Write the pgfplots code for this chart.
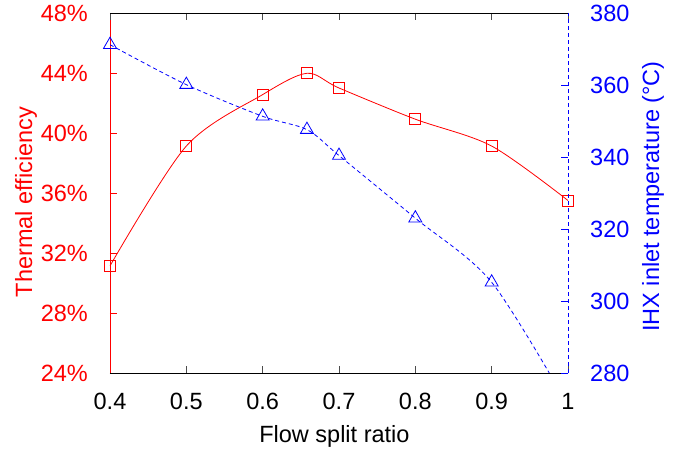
\documentclass[border=0pt]{standalone}
\usepackage{fontspec}
\setmainfont{Liberation Sans}
\usepackage{pgfplots}
\pgfplotsset{compat=1.18}
\definecolor{myred}{RGB}{255,0,0}
\definecolor{myblue}{RGB}{0,0,255}
\pgfplotstableread{
x eff
0.4 31.14
0.5 39.13
0.6 42.56
0.658 43.98
0.7 43.0
0.8 40.92
0.9 39.13
1.0 35.5
}\efftable
\pgfplotstableread{
x temp
0.4 371.2
0.5 360.1
0.6 351.3
0.658 347.6
0.7 340.4
0.8 323.0
0.9 305.2
1.0 271
}\temptable
\begin{document}
\begin{tikzpicture}[font=\fontsize{23.5bp}{27bp}\selectfont]
\pgfplotsset{
  every axis/.append style={
    scale only axis, width=458bp, height=360bp,
    xmin=0.4, xmax=1,
    tick align=inside, major tick length=7bp,
    /pgf/number format/assume math mode=true,
    clip mode=individual,
  }
}
\begin{axis}[
  ymin=24, ymax=48,
  axis x line*=bottom, axis y line*=left,
  xtick={0.4,0.5,0.6,0.7,0.8,0.9,1},
  ytick={24,28,32,36,40,44,48},
  yticklabel={\pgfmathprintnumber{\tick}\%},
  x axis line style={black, line width=0.8bp, -},
  y axis line style={myred, line width=0.8bp, -},
  x tick style={black!70, line width=0.8bp},
  y tick style={myred, line width=0.8bp},
  yticklabel style={myred, anchor=east, inner sep=0pt, xshift=-22bp},
  xticklabel style={anchor=center, inner sep=0pt, yshift=-28bp},
  ylabel={Thermal efficiency},
  ylabel style={myred, at={(axis description cs:-0.2074,0.475)}, anchor=north, inner sep=0pt, rotate=0},
  xlabel={Flow split ratio},
  xlabel style={at={(axis description cs:0.49,0)}, anchor=base, inner sep=0pt, yshift=-69bp},
]
\addplot[myred, line width=0.8bp, smooth, mark=square, mark size=5.5bp, mark options={solid, line width=0.8bp}] table[x=x, y=eff] {\efftable};
\end{axis}
\begin{axis}[
  ymin=280, ymax=380,
  axis x line*=top, axis y line*=right,
  xtick={0.4,0.5,0.6,0.7,0.8,0.9,1}, xticklabels={},
  ytick={280,300,320,340,360,380},
  x axis line style={black, line width=0.8bp, -},
  y axis line style={myblue, line width=0.8bp, dash pattern=on 4bp off 3bp, -},
  x tick style={black!70, line width=0.8bp},
  y tick style={myblue, line width=0.8bp},
  yticklabel style={myblue, anchor=west, inner sep=0pt, xshift=22bp},
  ylabel={IHX inlet temperature (°C)},
  ylabel style={myblue, at={(axis description cs:1.1616,0.49)}, anchor=north, inner sep=0pt},
]
\addplot[myblue, line width=0.8bp, smooth, dash pattern=on 4bp off 3bp, mark=triangle, mark size=7.5bp, mark options={solid, line width=0.8bp}] table[x=x, y=temp] {\temptable};
\end{axis}
\pgfresetboundingbox
\path[use as bounding box] (-110bp,-76bp) rectangle (570bp,373bp);
\end{tikzpicture}
\end{document}
